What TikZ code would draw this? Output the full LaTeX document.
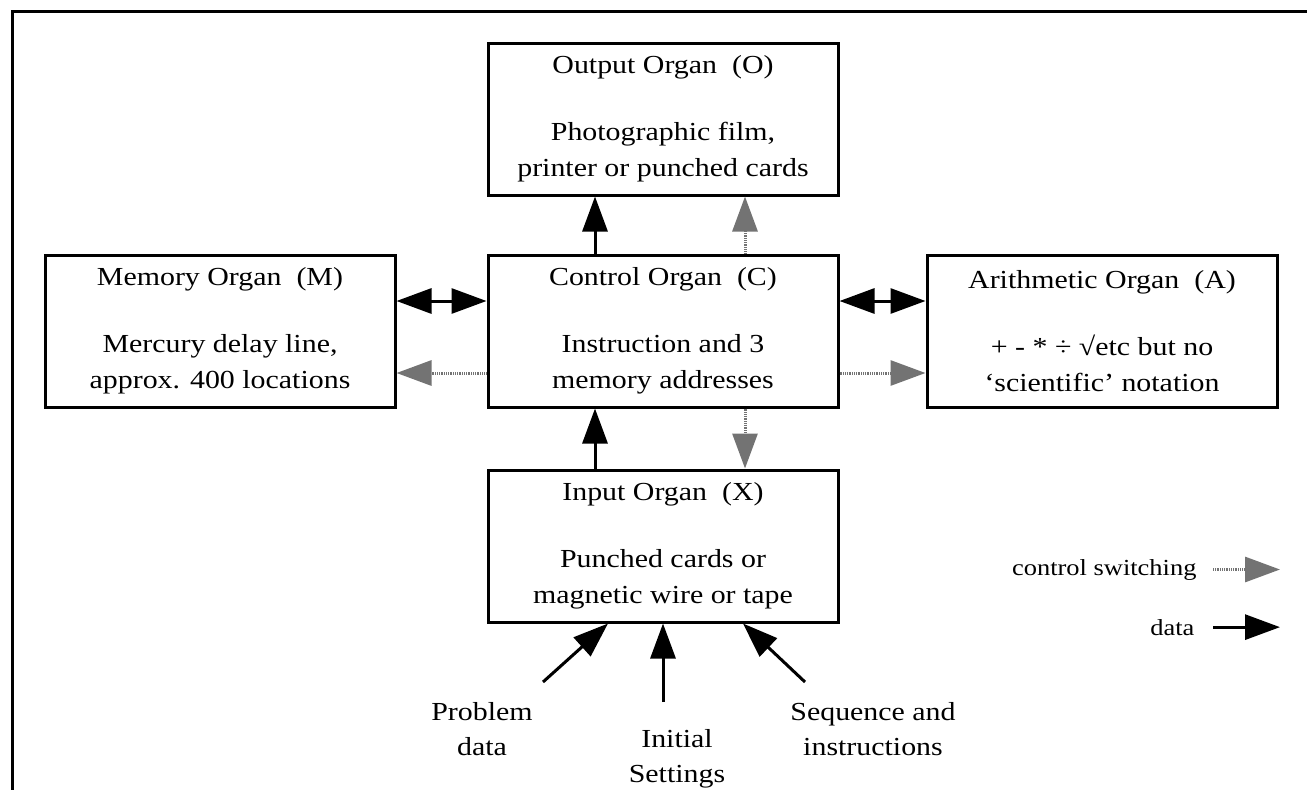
\documentclass[tikz,border=0pt]{standalone}
\usepackage{fontspec}
\setmainfont{Liberation Serif}[FakeStretch=1.15]
\usepackage{tikz}
\usetikzlibrary{positioning}
\usetikzlibrary{arrows.meta}
\usetikzlibrary{calc}

\begin{document}
\begin{tikzpicture}[x=1pt,y=-1pt]
	\useasboundingbox (0,0) rectangle (1307,790);
	\draw[line width=3.5pt] (1307,11.5) -| (12.5,790);

	\begin{scope}[every node/.style={draw,rectangle,line width=3pt,minimum width=350pt,minimum height=152pt,
	              inner sep=0pt,align=center,font=\fontsize{26pt}{36pt}\selectfont,
	              execute at begin node=\rule{0pt}{24pt}}]
	    \node (O) at (663,119) {Output Organ~~(O)\\[31pt]Photographic film,\\printer or punched cards};
	    \node (C) at (663,331) {Control Organ~~(C)\\[31pt]Instruction and 3\\memory addresses};
	    \node (M) at (220,331) {Memory Organ~~(M)\\[31pt]Mercury delay line,\\approx. 400 locations};
	    \node (A) at (1102,331) {Arithmetic Organ~~(A)\\[31pt]+ - * ÷ √etc but no\\‘scientific’ notation};
	    \node (X) at (663,546) {Input Organ~~(X)\\[31pt]Punched cards or\\magnetic wire or tape};
	\end{scope}

	\begin{scope}[every node/.style={align=center,font=\fontsize{26pt}{35pt}\selectfont}]
	    \node (pd) at (482,729) {Problem\\data};
	    \node (is) at (677,759) {Initial\\Settings};
	    \node (si) at (873,729) {Sequence and\\instructions};
	\end{scope}
	\coordinate (pdt) at (543,682);
	\coordinate (ist) at (663,702);
	\coordinate (sit) at (805,682);

	\node (cs) [anchor=base east,font=\fontsize{23pt}{28pt}\selectfont] at (1200,575) {control switching};
	\node (dt) [anchor=base east,font=\fontsize{23pt}{28pt}\selectfont] at (1198,635) {data};

	\begin{scope}[>={Triangle[length=35pt,width=25pt]},
	              every edge/.style={draw=black,line width=3pt},
	              hatched/.style={draw=black!55,line width=3pt,dash pattern=on 1pt off 0.8pt,
	                              -{Triangle[length=35pt,width=25pt,fill=black!55,sep=0pt]}}]
    	\path [<->] ([yshift=30pt]M.east) edge ([yshift=30pt]C.west);
    	\path [<->] ([yshift=30pt]C.east) edge ([yshift=30pt]A.west);
    	\path ([yshift=-42pt]C.west) edge[hatched] ([yshift=-42pt]M.east);
    	\path ([yshift=-42pt]C.east) edge[hatched] ([yshift=-42pt]A.west);
    	\path [->] ([xshift=-68pt]C.north) edge ([xshift=-68pt]O.south);
    	\path ([xshift=82pt]C.north) edge[hatched] ([xshift=82pt]O.south);
    	\path [->] ([xshift=-68pt]X.north) edge ([xshift=-68pt]C.south);
    	\path ([xshift=82pt]C.south) edge[hatched] ([xshift=82pt]X.north);
    	\path [->] (pdt) edge ([xshift=-55pt]X.south);
    	\path [->] (ist) edge (X.south);
    	\path [->] (sit) edge ([xshift=80pt]X.south);
    	\path ([xshift=13pt]cs.east) edge[hatched] ([xshift=80pt]cs.east);
    	\path [->] ([xshift=15pt]dt.east) edge ([xshift=82pt]dt.east);
	\end{scope}
\end{tikzpicture}
\end{document}
